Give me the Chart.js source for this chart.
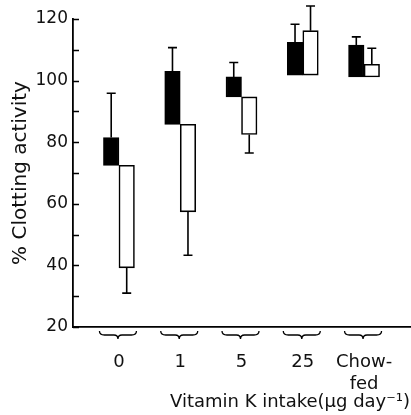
<!DOCTYPE html>
<html>
<head>
<meta charset="utf-8">
<script src="https://cdn.jsdelivr.net/npm/chart.js@4"></script>
<style>
  html, body { margin:0; padding:0; background:#fff; }
  #wrap { width:411px; height:415px; }
</style>
</head>
<body>
<div id="wrap"><canvas id="chart" width="411" height="415"></canvas></div>
<script>
// ---- Data ----
const categories  = ['0', '1', '5', '25', ['Chow-', 'fed']];
const blackRange  = [[72.5, 81.5], [85.8, 103.0], [94.7, 101.2], [101.8, 112.4], [101.2, 111.5]];
const whiteRange  = [[39.2, 72.5], [57.4, 85.8], [82.5, 94.7], [101.8, 116.2], [101.2, 105.3]];
const blackErrEnd = [95.9, 110.7, 105.9, 118.3, 114.2];
const whiteErrEnd = [31.0, 43.3, 76.5, 124.2, 110.5];

const INK  = '#000';
const FONT = 'DejaVu Sans';

// ---- Error bars: from bar end to whisker value, drawn at bar centre ----
const errorBars = {
  id: 'errorBars',
  afterDatasetsDraw(chart) {
    const { ctx, scales: { y } } = chart;
    const sets = [[0, blackRange, blackErrEnd], [1, whiteRange, whiteErrEnd]];
    ctx.save();
    ctx.strokeStyle = INK;
    ctx.lineWidth = 1.6;
    sets.forEach(([di, ranges, ends]) => {
      const meta = chart.getDatasetMeta(di);
      meta.data.forEach((bar, i) => {
        const [lo, hi] = ranges[i];
        const end  = ends[i];
        const from = end < lo ? lo : hi;
        const y0 = y.getPixelForValue(from);
        const y1 = y.getPixelForValue(end);
        ctx.beginPath();
        ctx.moveTo(bar.x, y0); ctx.lineTo(bar.x, y1);
        ctx.moveTo(bar.x - 4.5, y1); ctx.lineTo(bar.x + 4.5, y1);
        ctx.stroke();
      });
    });
    ctx.restore();
  }
};

// ---- Inward y ticks + braces under each group ----
const axisDecor = {
  id: 'axisDecor',
  afterDraw(chart) {
    const { ctx, scales: { x, y }, chartArea } = chart;
    ctx.save();
    ctx.strokeStyle = INK;
    ctx.lineWidth = 1.5;
    ctx.beginPath();
    for (let v = y.min; v <= y.max; v += 10) {
      const py = Math.round(y.getPixelForValue(v)) + 0.5;
      ctx.moveTo(chartArea.left, py); ctx.lineTo(chartArea.left + 6, py);
    }
    ctx.stroke();

    ctx.lineWidth = 1.3;
    const y0 = chartArea.bottom + 4, w = 18.5;
    categories.forEach((c, i) => {
      const cx = x.getPixelForValue(i) - 1;
      ctx.beginPath();
      ctx.moveTo(cx - w, y0);
      ctx.quadraticCurveTo(cx - w, y0 + 4, cx - w + 5, y0 + 4);
      ctx.lineTo(cx - 4, y0 + 4);
      ctx.quadraticCurveTo(cx, y0 + 4, cx, y0 + 8);
      ctx.quadraticCurveTo(cx, y0 + 4, cx + 4, y0 + 4);
      ctx.lineTo(cx + w - 5, y0 + 4);
      ctx.quadraticCurveTo(cx + w, y0 + 4, cx + w, y0);
      ctx.stroke();
    });
    ctx.restore();
  }
};

const idx = categories.map((c, i) => i);

new Chart(document.getElementById('chart'), {
  type: 'bar',
  data: {
    datasets: [
      { label: 'black', data: idx.map(i => ({ x: i, y: blackRange[i] })),
        backgroundColor: INK, borderColor: INK, borderWidth: 1.5, borderSkipped: false },
      { label: 'white', data: idx.map(i => ({ x: i, y: whiteRange[i] })),
        backgroundColor: '#fff', borderColor: INK, borderWidth: 1.6, borderSkipped: false },
    ],
  },
  options: {
    responsive: false,
    animation: false,
    barThickness: 15.5,
    clip: false,
    layout: { padding: { top: 19, right: 1, left: 0, bottom: 0 } },
    plugins: { legend: { display: false }, tooltip: { enabled: false } },
    scales: {
      x: {
        type: 'linear',
        min: -0.75, max: 4.75,
        offset: false,
        grid: { display: false, drawTicks: false, offset: false },
        border: { display: true, color: INK, width: 1.8 },
        afterBuildTicks: s => { s.ticks = idx.map(i => ({ value: i })); },
        afterFit: s => { s.height = 88; s.paddingLeft = 0; s.paddingRight = 0; },
        ticks: {
          autoSkip: false, maxRotation: 0, padding: 25,
          color: '#111', font: { family: FONT, size: 18 },
          callback: v => categories[v],
        },
        title: {
          display: true, text: 'Vitamin K intake(μg day⁻¹)', align: 'end',
          color: '#111', font: { family: FONT, size: 18 }, padding: { top: 0, bottom: 2 },
        },
      },
      y: {
        min: 20, max: 120,
        grid: { display: false, drawTicks: false },
        border: { display: true, color: INK, width: 1.8 },
        afterFit: s => { s.width = 73; s.paddingTop = 0; s.paddingBottom = 0; },
        ticks: { stepSize: 20, padding: 5, color: '#111', font: { family: FONT, size: 17 } },
        title: {
          display: true, text: '% Clotting activity',
          color: '#111', font: { family: FONT, size: 20 }, padding: { top: 9, bottom: 0 },
        },
      },
    },
  },
  plugins: [errorBars, axisDecor],
});
</script>
</body>
</html>
